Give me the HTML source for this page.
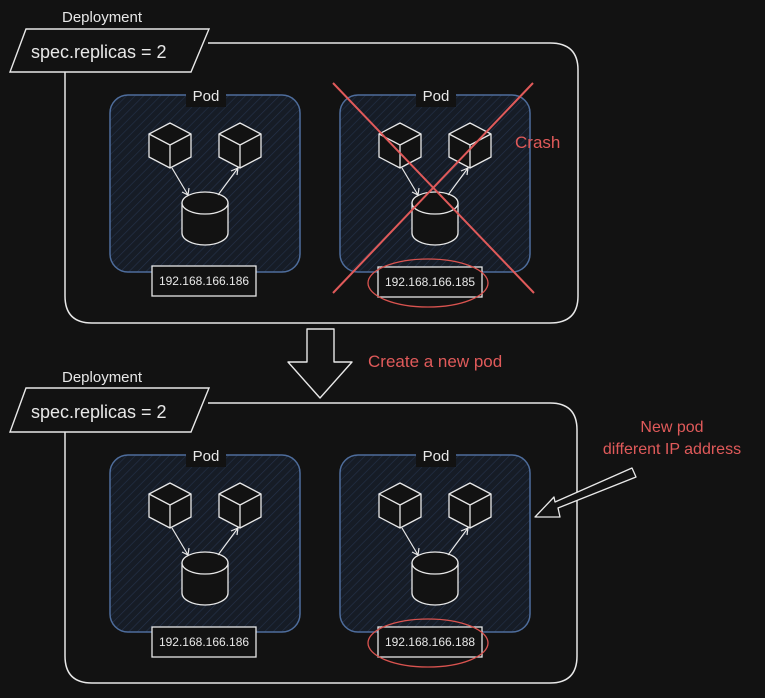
<!DOCTYPE html>
<html><head><meta charset="utf-8"><style>
html,body{margin:0;padding:0;background:#121212;}
svg{display:block;}
text{font-family:"Comic Sans MS","Liberation Sans",sans-serif;}
</style></head><body>
<svg width="765" height="698" viewBox="0 0 765 698" xmlns="http://www.w3.org/2000/svg">
<defs>
<pattern id="h" width="6" height="6" patternUnits="userSpaceOnUse" patternTransform="rotate(45)">
<rect width="6" height="6" fill="#161c26"/>
<line x1="0" y1="0" x2="0" y2="6" stroke="#25324a" stroke-width="1.2"/>
</pattern>
<g id="cube" fill="#121212" stroke="#e8e8e8" stroke-width="1.3" stroke-linejoin="round">
<path d="M0,-22 L21,-11 L21,12 L0,23 L-21,12 L-21,-11 Z"/>
<path d="M-21,-11 L0,0 L21,-11 M0,0 L0,23" fill="none"/>
</g>
<g id="pod">
<rect x="0" y="0" width="190" height="177" rx="18" fill="url(#h)" stroke="#4e6d9c" stroke-width="1.5"/>
<rect x="76" y="-10" width="40" height="22" fill="#121212"/>
<text x="96" y="6" text-anchor="middle" fill="#e8e8e8" font-size="15">Pod</text>
<use href="#cube" x="60" y="50"/>
<use href="#cube" x="130" y="50"/>
<g fill="#121212" stroke="#e8e8e8" stroke-width="1.3">
<path d="M72,108 L72,138 A23,12 0 0 0 118,138 L118,108"/>
<ellipse cx="95" cy="108" rx="23" ry="11"/>
</g>
<g stroke="#e8e8e8" stroke-width="1.2" fill="none">
<path d="M62,73 L78,100 M72,97 L78,100 L79,93"/>
<path d="M108,100 L128,73 M121,76 L128,73 L127,80"/>
</g>
</g>
<g id="ip">
<rect x="0" y="0" width="104" height="30" fill="#121212" stroke="#e8e8e8" stroke-width="1.3"/>
</g>
</defs>

<text x="62" y="22" fill="#e8e8e8" font-size="15">Deployment</text>
<path d="M208,43 L550,43 Q578,43 578,70 L578,296 Q578,323 550,323 L92,323 Q65,323 65,296 L65,72" fill="none" stroke="#e8e8e8" stroke-width="1.5"/>
<path d="M26,29 L209,29 L191,72 L10,72 Z" fill="#121212" stroke="#e8e8e8" stroke-width="1.4"/>
<text x="31" y="58" fill="#e8e8e8" font-size="18">spec.replicas = 2</text>

<use href="#pod" x="110" y="95"/>
<use href="#pod" x="340" y="95"/>
<use href="#ip" x="152" y="266"/>
<text x="204" y="285" text-anchor="middle" fill="#e8e8e8" font-size="12" font-family="Liberation Sans">192.168.166.186</text>
<use href="#ip" x="378" y="267"/>
<text x="430" y="286" text-anchor="middle" fill="#e8e8e8" font-size="12" font-family="Liberation Sans">192.168.166.185</text>
<ellipse cx="428" cy="283" rx="60" ry="24" fill="none" stroke="#d9534f" stroke-width="1.3"/>
<g stroke="#e05a5a" stroke-width="2"><line x1="333" y1="83" x2="534" y2="293"/><line x1="533" y1="83" x2="333" y2="293"/></g>
<text x="515" y="148" fill="#e05a5a" font-size="17">Crash</text>

<path d="M307,329 L334,329 L334,362 L352,362 L320,398 L288,362 L307,362 Z" fill="#121212" stroke="#e8e8e8" stroke-width="1.4" stroke-linejoin="round"/>
<text x="368" y="367" fill="#e05a5a" font-size="17">Create a new pod</text>

<text x="62" y="382" fill="#e8e8e8" font-size="15">Deployment</text>
<path d="M208,403 L550,403 Q577,403 577,430 L577,656 Q577,683 550,683 L92,683 Q65,683 65,656 L65,432" fill="none" stroke="#e8e8e8" stroke-width="1.5"/>
<path d="M26,388 L209,388 L191,432 L10,432 Z" fill="#121212" stroke="#e8e8e8" stroke-width="1.4"/>
<text x="31" y="418" fill="#e8e8e8" font-size="18">spec.replicas = 2</text>

<use href="#pod" x="110" y="455"/>
<use href="#pod" x="340" y="455"/>
<use href="#ip" x="152" y="627"/>
<text x="204" y="646" text-anchor="middle" fill="#e8e8e8" font-size="12" font-family="Liberation Sans">192.168.166.186</text>
<use href="#ip" x="378" y="627"/>
<text x="430" y="646" text-anchor="middle" fill="#e8e8e8" font-size="12" font-family="Liberation Sans">192.168.166.188</text>
<ellipse cx="428" cy="643" rx="60" ry="24" fill="none" stroke="#d9534f" stroke-width="1.3"/>

<text x="672" y="432" text-anchor="middle" fill="#e05a5a" font-size="16">New pod</text>
<text x="672" y="454" text-anchor="middle" fill="#e05a5a" font-size="16">different IP address</text>
<path d="M632,468 L636,477 L558,508 L560,517 L535,517 L554,497 L555,502 Z" fill="#121212" stroke="#e8e8e8" stroke-width="1.3" stroke-linejoin="round"/>
</svg>
</body></html>
